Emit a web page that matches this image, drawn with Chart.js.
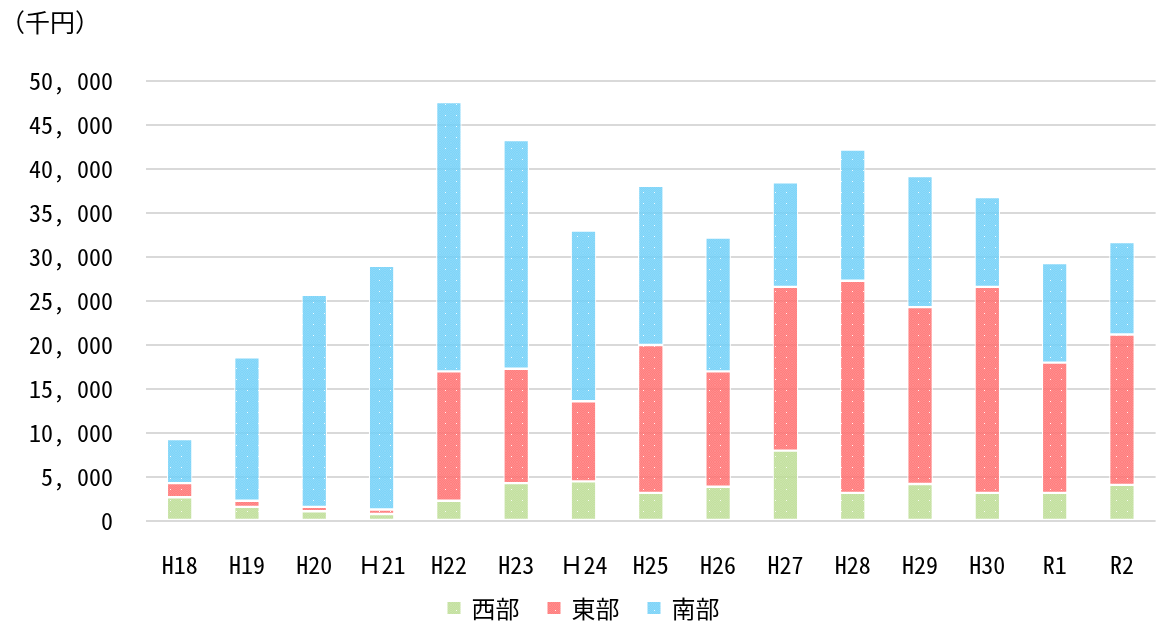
<!DOCTYPE html>
<html>
<head>
<meta charset="utf-8">
<script src="https://cdn.jsdelivr.net/npm/chart.js@4.4.1/dist/chart.umd.min.js"></script>
<style>
  html, body { margin: 0; padding: 0; background: #fff; overflow: hidden; }
  #wrap { width: 1163px; height: 625px; }
</style>
</head>
<body>
<div id="wrap"><canvas id="chart-area" width="1163" height="625"></canvas></div>
<script>
  'use strict';

  // fiscal years
  var years = ['H18', 'H19', 'H20', 'Ｈ21', 'H22', 'H23', 'Ｈ24', 'H25', 'H26', 'H27', 'H28', 'H29', 'H30', 'R1', 'R2'];

  // values in thousand yen
  var west = [2700, 1600, 1100, 800, 2300, 4300, 4500, 3200, 3900, 8000, 3200, 4200, 3200, 3200, 4100];
  var east = [1600, 700, 500, 500, 14700, 13000, 9100, 16800, 13100, 18600, 24100, 20100, 23400, 14800, 17100];
  var south = [5000, 16300, 24100, 27700, 30600, 26000, 19400, 18100, 15200, 11900, 14900, 14900, 10200, 11300, 10500];

  var seriesNames = ['西部', '東部', '南部'];
  var yTicks = [0, 5000, 10000, 15000, 20000, 25000, 30000, 35000, 40000, 45000, 50000];

  var monoFont = "'Noto Sans Mono CJK JP', 'Noto Sans CJK JP', monospace";
  var jpFont = "'Noto Sans CJK JP', sans-serif";

  // dotted texture like the office fill
  function makePattern(r, g, b) {
    var c = document.createElement('canvas');
    c.width = 11;
    c.height = 11;
    var x = c.getContext('2d');
    x.fillStyle = 'rgba(' + r + ',' + g + ',' + b + ',0.85)';
    x.fillRect(0, 0, 11, 11);
    x.fillStyle = 'rgba(255,255,255,0.10)';
    for (var i = 0; i < 11; i++) {
      for (var j = 0; j < 11; j++) {
        if ((i + j) % 2 === 0) x.fillRect(i, j, 1, 1);
      }
    }
    x.fillStyle = 'rgba(255,255,255,0.9)';
    x.fillRect(5, 5, 1, 1);
    return document.getElementById('chart-area').getContext('2d').createPattern(c, 'repeat');
  }

  var fills = [
    makePattern(186, 218, 143), //(green)
    makePattern(255, 105, 105), //(red)
    makePattern(105, 205, 247)  //(blue)
  ];

  function fmt(v) {
    return v.toLocaleString('en-US').replace(/,/g, ', ');
  }

  // legend drawn by hand so it sits where the original one does
  var bottomLegend = {
    id: 'bottomLegend',
    afterDraw: function (chart) {
      var c = chart.ctx;
      var sets = chart.data.datasets;
      var box = 13, gap = 11, between = 28;
      c.save();
      c.font = '24px ' + jpFont;
      c.textBaseline = 'middle';
      var total = 0;
      for (var i = 0; i < sets.length; i++) {
        total += box + gap + c.measureText(sets[i].label).width;
      }
      total += between * (sets.length - 1);
      var x = chart.width / 2 + 2 - total / 2;
      var y = 608;
      for (var k = 0; k < sets.length; k++) {
        c.fillStyle = sets[k].backgroundColor;
        c.fillRect(x, y - 6, box, 12);
        x += box + gap;
        c.fillStyle = '#000';
        c.fillText(sets[k].label, x, y + 1);
        x += c.measureText(sets[k].label).width + between;
      }
      c.restore();
    }
  };

  var values = [west, east, south];
  var datasets = [];
  for (var i = 0; i < values.length; i++) {
    datasets.push({
      label: seriesNames[i],
      data: values[i],
      backgroundColor: fills[i],
      borderColor: '#ffffff',
      borderWidth: 1.2,
      borderSkipped: false,
      barPercentage: 0.38,
      categoryPercentage: 1.0
    });
  }

  var config = {
    type: 'bar',
    data: {
      labels: years,
      datasets: datasets
    },
    plugins: [bottomLegend],
    options: {
      responsive: false,
      animation: false,
      devicePixelRatio: 1,
      layout: { padding: { left: 0, right: 1, top: 0, bottom: 44 } },
      plugins: {
        tooltip: { enabled: false },
        legend: { display: false },
        title: {
          display: true,
          text: '（千円）',
          align: 'start',
          color: '#000',
          font: { family: jpFont, size: 25, weight: 'normal' },
          padding: { top: 7, bottom: 44 }
        }
      },
      scales: {
        x: {
          stacked: true,
          grid: { display: false, drawTicks: false },
          border: { display: false },
          ticks: {
            color: '#000',
            font: { family: monoFont, size: 24 },
            padding: 29,
            maxRotation: 0,
            autoSkip: false
          },
          afterFit: function (s) { s.height = 60; }
        },
        y: {
          stacked: true,
          min: 0,
          max: 50000,
          afterBuildTicks: function (s) {
            s.ticks = yTicks.map(function (v) { return { value: v }; });
          },
          grid: { color: '#d9d9d9', lineWidth: 2, drawTicks: false },
          border: { display: false },
          ticks: {
            color: '#000',
            font: { family: monoFont, size: 24 },
            padding: 33,
            callback: function (v) { return fmt(v); }
          },
          afterFit: function (s) { s.width = 146; }
        }
      }
    }
  };

  var ctx = document.getElementById('chart-area').getContext('2d');
  window.myBar = new Chart(ctx, config);
</script>
</body>
</html>
